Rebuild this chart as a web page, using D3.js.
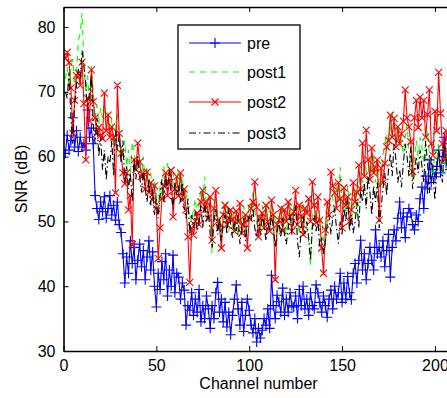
<!DOCTYPE html>
<html>
<head>
<meta charset="utf-8">
<script src="https://cdn.jsdelivr.net/npm/d3@7"></script>
<style>
  body { margin: 0; background: #fff; }
  svg { display: block; font-family: "Liberation Sans", Arial, sans-serif; }
</style>
</head>
<body>
<div id="chart"></div>
<script>
// SNR per channel
const channels = d3.range(1, 209);

const pre = [
  60.5, 63.3, 61, 62.5, 66, 61.5, 64, 60.8, 63, 61.5,
  62, 61, 67.2, 63, 64.4, 62, 54, 52, 50.3, 53,
  51.5, 53.8, 50.5, 52, 54, 51, 52.5, 50.2, 53, 49.5,
  48.3, 45, 40.5, 44.5, 42, 47, 43.5, 46, 41, 44,
  46.5, 43, 45.5, 41, 44.5, 47, 42.5, 45.3, 40, 36.8,
  42, 39.5, 43.8, 41, 45, 38.5, 42.5, 40, 44.8, 39,
  42, 41.4, 38, 40.5, 39.4, 34, 37, 36.3, 39, 35.5,
  38, 36, 39.5, 34.5, 37, 35, 38.5, 36.5, 33.5, 37,
  35, 39, 40.6, 36, 38, 34.5, 37.5, 33.7, 36, 32.5,
  35.5, 38, 40.2, 36.5, 34, 37.5, 33, 35.5, 38, 36.3,
  34, 32.8, 35, 31.4, 33.5, 32, 33.2, 35, 34, 36.5,
  33.5, 41.7, 37, 35, 38.6, 37.6, 36, 39.7, 35.5, 38,
  36, 39, 37, 36.8, 38.5, 35, 39.5, 37, 40, 36.5,
  38, 35.5, 39, 37, 36.5, 40.2, 39, 37.5, 36, 38.5,
  37, 35.2, 38, 39.4, 36.5, 40, 38, 39, 42, 37.5,
  40.5, 38, 41.5, 39, 37.9, 42, 43.5, 40.5, 44, 47.1,
  42.5, 45, 41, 43.5, 46, 44, 42.5, 48.7, 45, 46,
  44.5, 47, 43, 45.5, 48, 41.4, 46, 48.7, 47, 50.5,
  53, 49, 51.3, 47.5, 50.7, 52, 51.3, 49.5, 48.7, 51,
  50, 53.5, 55.3, 52, 57, 55, 59.5, 56, 58, 56.9,
  58.5, 61, 57.5, 60, 63, 59, 62, 58
];

const post1 = [
  72, 73.8, 70.7, 74, 75, 71, 73, 78, 79, 82.2,
  74, 70, 72.5, 68, 74, 70, 66, 68, 65, 67.5,
  66, 69, 64, 67, 63.5, 66, 62, 64.5, 67, 63.6,
  62, 60, 62.5, 58.5, 61, 57, 62.3, 60.5, 58, 61,
  59.5, 57, 60, 55.5, 58.5, 56, 57.5, 53, 56.5, 54,
  52, 55.5, 54, 58.5, 56, 59, 57, 55, 57.5, 54,
  56.5, 58, 55, 57, 53.5, 55, 52, 51, 50, 52,
  53.5, 50, 52.5, 55, 53, 56.9, 52, 54, 50, 45.1,
  51, 53.5, 49.5, 51, 48, 52.5, 50, 53, 48.5, 51.5,
  49, 52, 50, 47.5, 51, 49, 52.5, 48, 50.5, 53,
  51.5, 54.5, 52, 49.5, 51, 48.5, 52.5, 50.5, 49, 53,
  51, 48.5, 52, 50, 47, 51.5, 49.5, 52.5, 50, 48,
  51, 53, 49.5, 52, 54, 50.5, 48, 51.5, 53, 50,
  49, 47, 43, 51, 53.5, 50, 52, 48.5, 50.5, 47,
  46, 50, 52.5, 55, 53.5, 51, 55.5, 53, 58.4, 52,
  54, 51, 55.5, 53, 50, 52.5, 55, 51, 54.5, 57,
  56, 59.5, 58, 55.5, 60, 57.5, 60.5, 56, 58.5, 55,
  57.5, 60, 62, 63.5, 61, 64.5, 67, 63, 64.6, 62,
  64.5, 62, 60.5, 63, 65, 61, 59, 56.4, 60, 62.5,
  60, 63, 61.5, 59, 62, 64, 60.5, 58, 57, 61,
  59.5, 62, 60, 57.5, 58, 60.5, 57, 59
];

const post2 = [
  75.2, 76.1, 74.5, 70.6, 63.6, 68.7, 72.5, 72.9, 71, 74.6,
  68.2, 59.5, 69, 65.5, 73.4, 68.5, 66, 63.6, 64.5, 63.3,
  62.8, 69.8, 64, 66.4, 63, 64.6, 63, 54.4, 71, 63.6,
  60.5, 57.5, 55.8, 57.5, 51.8, 54, 46.4, 59.5, 58, 62.1,
  59.2, 56.9, 57.5, 55, 57.6, 54.5, 56, 53.3, 55.5, 52,
  44.3, 49, 53.5, 55.5, 57.5, 54, 56, 57.9, 50.7, 55,
  56.9, 54, 57.5, 53.3, 55, 51.8, 47.6, 40.6, 49, 47.9,
  50, 51.3, 49.5, 53, 54.8, 51.8, 53, 50.5, 53.8, 47.1,
  52, 54.8, 50, 49, 45.9, 51, 52.5, 49.5, 50.5, 51.8,
  50.3, 48.5, 51.6, 50, 52.8, 48.2, 49.5, 51, 45.9, 50.5,
  52, 53, 56.1, 52.2, 47.6, 50.5, 51.3, 49, 52.5, 50,
  48.5, 53.3, 51, 41, 49.5, 50.2, 52, 48.6, 51.8, 50,
  53, 50.7, 48.5, 51.5, 54.8, 49.5, 52.5, 50.8, 48, 52,
  51.3, 53.5, 50, 56.1, 52.5, 49.8, 53.8, 50.2, 45.9, 42,
  48.7, 53, 51, 57.6, 55.5, 54.4, 52, 56, 53.5, 49,
  55.2, 52.5, 53.8, 50, 51.8, 56, 53, 54.5, 58.7, 55,
  62.1, 57, 64.1, 59.5, 56.5, 61.3, 57.5, 58.4, 59.5, 50.2,
  58.2, 56, 59, 61.5, 62.5, 66.4, 63, 65.9, 61.5, 64.6,
  62, 63.5, 65.5, 70.3, 66, 64.6, 62.3, 57.7, 66, 68.7,
  64.5, 69.2, 66, 68.7, 63, 66.5, 70.3, 62, 60.2, 67,
  64, 73, 66.7, 62, 59.5, 64, 61, 63
];

const post3 = [
  70, 69, 73, 66, 62, 68, 71, 73.5, 72, 76.4,
  74, 71, 67, 70, 72.5, 65, 62, 66, 60, 63,
  58, 61, 56.4, 60, 59, 62.5, 57, 64, 61, 63.5,
  59, 62.5, 56, 58.5, 55, 57.5, 53, 59.5, 56.5, 60,
  57, 54.5, 58, 55, 53, 56.5, 52.5, 55, 51, 53.5,
  50.5, 54, 56.5, 53, 57, 55, 58, 54, 52, 56,
  54, 55.5, 53, 56, 52, 50.5, 53.5, 48, 51, 49,
  51.5, 48.5, 50, 52.5, 49, 53, 50, 51.5, 48, 46,
  50, 52, 48, 50.5, 47, 49.5, 51, 48, 52, 49.5,
  47.5, 50, 48.5, 51, 46.5, 49, 50.5, 47, 49.5, 51,
  50, 52, 49, 47.5, 50.5, 48, 51, 49.5, 47, 50,
  48.5, 51, 49, 46, 48.5, 50, 47.5, 50.5, 48, 46.5,
  49, 51, 48, 50, 52.5, 47, 44.5, 49, 51, 48,
  50, 47.5, 44, 49, 51, 48.5, 50, 46, 47.5, 45,
  47, 49.5, 51, 48, 50.5, 52, 49, 46.6, 50, 48,
  52, 50, 53.5, 48.5, 51, 48.2, 50, 53, 49, 55,
  53, 56, 52, 57, 54.5, 51, 55.5, 53, 56, 49,
  52, 55, 57.5, 54, 58, 60.5, 57, 62, 59.5, 56,
  58, 55.3, 59, 62, 60, 57, 61.5, 55, 58, 60,
  57.5, 61, 58.5, 56, 62.5, 59, 54.4, 60, 57, 53.3,
  58, 61, 59.5, 56, 62, 60, 57.5, 61
];

const xTicks = [0, 50, 100, 150, 200];
const yTicks = [30, 40, 50, 60, 70, 80];
const seriesNames = ['pre', 'post1', 'post2', 'post3'];

const width = 447;
const height = 398;
const margin = { top: 7, left: 63.5, bottom: 47 };
const plotW = 390;

const svg = d3.select('#chart').append('svg')
  .attr('width', width)
  .attr('height', height);

const x = d3.scaleLinear().domain([0, 210]).range([margin.left, margin.left + plotW]);
const y = d3.scaleLinear().domain([30, 83.1]).range([height - margin.bottom, margin.top]);

const series = [
  { name: seriesNames[0], values: pre, color: '#0000ff', dash: null, marker: 'plus' },
  { name: seriesNames[1], values: post1, color: '#00ff00', dash: '6,5', marker: null },
  { name: seriesNames[2], values: post2, color: '#ff0000', dash: null, marker: 'cross' },
  { name: seriesNames[3], values: post3, color: '#000000', dash: '7,3,1.5,3', marker: null }
];

svg.append('clipPath').attr('id', 'clip')
  .append('rect')
  .attr('x', margin.left).attr('y', margin.top)
  .attr('width', plotW).attr('height', y(30) - margin.top);

const plot = svg.append('g').attr('clip-path', 'url(#clip)');

function markerPath(kind, cx, cy) {
  if (kind === 'plus') {
    const r = 5;
    return `M${cx - r},${cy}H${cx + r}M${cx},${cy - r}V${cy + r}`;
  }
  const r = 3.5;
  return `M${cx - r},${cy - r}L${cx + r},${cy + r}M${cx - r},${cy + r}L${cx + r},${cy - r}`;
}

const line = d3.line()
  .x((d, i) => x(channels[i]))
  .y(d => y(d));

// draw order as in matlab: pre, post1, post2, post3
series.forEach(s => {
  plot.append('path')
    .datum(s.values)
    .attr('fill', 'none')
    .attr('stroke', s.color)
    .attr('stroke-width', 1.1)
    .attr('stroke-dasharray', s.dash)
    .attr('d', line);

  if (s.marker) {
    plot.append('path')
      .attr('fill', 'none')
      .attr('stroke', s.color)
      .attr('stroke-width', 1.1)
      .attr('d', s.values.map((v, i) => markerPath(s.marker, x(channels[i]), y(v))).join(''));
  }
});

// axes, ticks inside like matlab
const axisStyle = g => {
  g.select('.domain').attr('stroke', '#000').attr('stroke-width', 1.6);
  g.selectAll('.tick line').attr('stroke', '#000').attr('stroke-width', 1);
  g.selectAll('text').attr('fill', '#000').style('font-size', '16px')
    .style('font-family', '"Liberation Sans", Arial, sans-serif');
};

svg.append('g')
  .attr('transform', `translate(0,${y(30)})`)
  .call(d3.axisBottom(x).tickValues(xTicks).tickSize(-5).tickPadding(9).tickSizeOuter(0))
  .call(axisStyle);

svg.append('g')
  .attr('transform', `translate(0,${margin.top})`)
  .call(d3.axisTop(x).tickValues(xTicks).tickSize(-5).tickFormat('').tickSizeOuter(0))
  .call(axisStyle);

svg.append('g')
  .attr('transform', `translate(${margin.left},0)`)
  .call(d3.axisLeft(y).tickValues(yTicks).tickSize(-5).tickPadding(8).tickSizeOuter(0))
  .call(axisStyle);

// axis labels
svg.append('text')
  .attr('x', x(105))
  .attr('y', 389)
  .attr('text-anchor', 'middle')
  .style('font-size', '16px')
  .text('Channel number');

svg.append('text')
  .attr('transform', `translate(27,${(y(30) + margin.top) / 2}) rotate(-90)`)
  .attr('text-anchor', 'middle')
  .style('font-size', '16px')
  .text('SNR (dB)');

// legend
const legend = svg.append('g');
legend.append('rect')
  .attr('x', 178).attr('y', 25)
  .attr('width', 122).attr('height', 124)
  .attr('fill', '#fff')
  .attr('stroke', '#000')
  .attr('stroke-width', 1.3);

const legY = [43, 72, 102, 133];
series.forEach((s, i) => {
  const ly = legY[i];
  legend.append('line')
    .attr('x1', 189).attr('x2', 241)
    .attr('y1', ly).attr('y2', ly)
    .attr('stroke', s.color)
    .attr('stroke-width', 1.1)
    .attr('stroke-dasharray', s.dash);
  if (s.marker) {
    legend.append('path')
      .attr('fill', 'none')
      .attr('stroke', s.color)
      .attr('stroke-width', 1.1)
      .attr('d', markerPath(s.marker, 215, ly));
  }
  legend.append('text')
    .attr('x', 247)
    .attr('y', ly + 6)
    .style('font-size', '16px')
    .text(s.name);
});
</script>
</body>
</html>
